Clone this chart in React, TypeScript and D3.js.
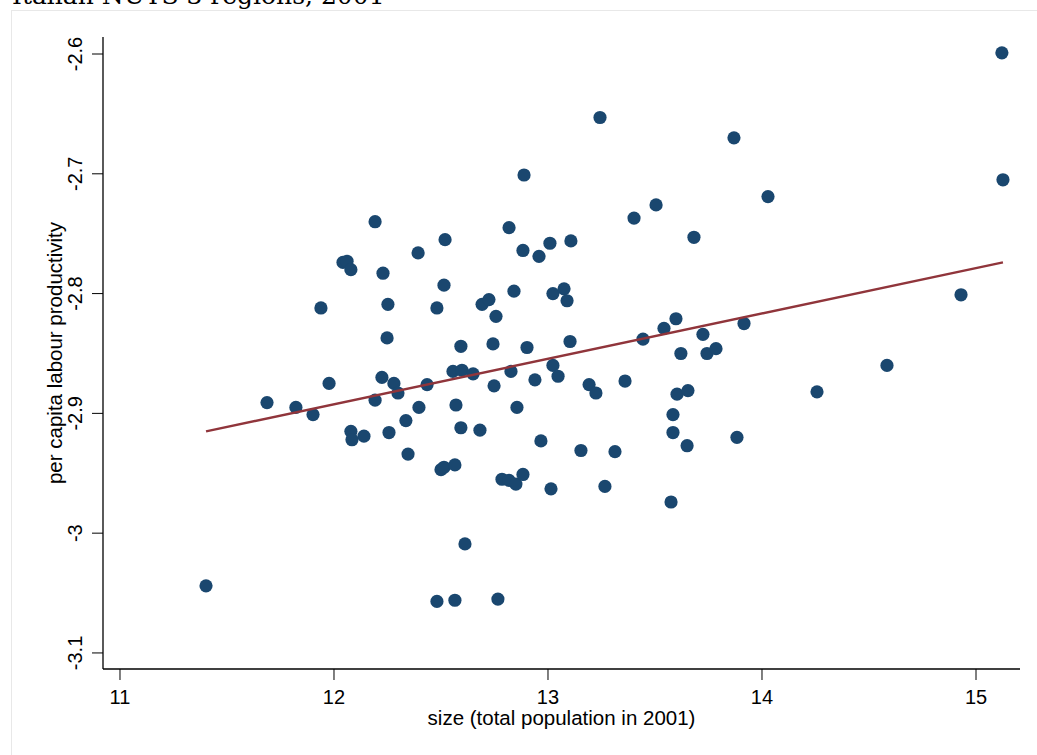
import React from 'react';
import * as d3 from 'd3';

// size (log total population, 2001) and per capita labour productivity, one entry per province
const sizeX = [
  15.121, 13.243, 13.869, 12.888, 15.126, 14.028, 13.505, 13.402, 12.192, 12.818,
  13.682, 13.107, 12.519, 13.009, 12.393, 12.883, 12.958, 12.042, 12.061, 12.079,
  12.229, 12.514, 12.841, 13.023, 13.075, 14.930, 12.252, 11.939, 12.481, 12.692,
  12.724, 13.089, 12.757, 13.598, 13.916, 13.542, 12.248, 13.724, 13.444, 13.103,
  12.743, 12.593, 12.902, 13.621, 13.743, 13.785, 14.584, 13.023, 12.556, 12.598,
  12.650, 12.827, 12.224, 13.047, 12.939, 13.360, 11.977, 12.280, 12.435, 12.748,
  13.192, 12.299, 13.224, 13.603, 13.654, 14.257, 11.687, 12.192, 11.822, 11.902,
  12.570, 12.397, 12.855, 13.584, 12.336, 12.079, 12.084, 12.140, 12.257, 12.593,
  12.682, 13.584, 13.883, 12.967, 13.650, 13.154, 13.313, 12.346, 12.500, 12.514,
  12.565, 12.785, 12.818, 12.850, 12.883, 13.014, 13.266, 13.575, 12.612, 11.402,
  12.481, 12.565, 12.766,
];
const productivityY = [
  -2.599, -2.653, -2.670, -2.701, -2.705, -2.719, -2.726, -2.737, -2.740, -2.745,
  -2.753, -2.756, -2.755, -2.758, -2.766, -2.764, -2.769, -2.774, -2.773, -2.780,
  -2.783, -2.793, -2.798, -2.800, -2.796, -2.801, -2.809, -2.812, -2.812, -2.809,
  -2.805, -2.806, -2.819, -2.821, -2.825, -2.829, -2.837, -2.834, -2.838, -2.840,
  -2.842, -2.844, -2.845, -2.850, -2.850, -2.846, -2.860, -2.860, -2.865, -2.864,
  -2.867, -2.865, -2.870, -2.869, -2.872, -2.873, -2.875, -2.875, -2.876, -2.877,
  -2.876, -2.883, -2.883, -2.884, -2.881, -2.882, -2.891, -2.889, -2.895, -2.901,
  -2.893, -2.895, -2.895, -2.901, -2.906, -2.915, -2.922, -2.919, -2.916, -2.912,
  -2.914, -2.916, -2.920, -2.923, -2.927, -2.931, -2.932, -2.934, -2.947, -2.945,
  -2.943, -2.955, -2.956, -2.959, -2.951, -2.963, -2.961, -2.974, -3.009, -3.044,
  -3.057, -3.056, -3.055,
];

// linear fit (fitted values at the smallest and largest size)
const fitX = [11.402, 15.126];
const fitY = [-2.915, -2.774];

const xTicks = [11, 12, 13, 14, 15];
const yTicks = [-2.6, -2.7, -2.8, -2.9, -3, -3.1];
const yTickLabels = ['-2.6', '-2.7', '-2.8', '-2.9', '-3', '-3.1'];

const W = 1037;
const H = 755;
const font = '"Liberation Sans", Arial, sans-serif';

export default function App() {
  const ref = React.useRef<SVGSVGElement>(null);

  React.useEffect(() => {
    const svg = d3.select(ref.current);
    svg.selectAll('*').remove();

    const x = d3.scaleLinear().domain([10.9206, 15.2056]).range([103, 1020]);
    const y = d3.scaleLinear().domain([-3.1134, -2.5858]).range([669, 37]);

    svg.append('rect').attr('width', W).attr('height', H).attr('fill', '#fff');
    svg.append('rect')
      .attr('x', 11.5).attr('y', 10.5)
      .attr('width', W + 20).attr('height', H + 20)
      .attr('fill', '#fff').attr('stroke', '#e8e8e8');

    // title sits partly above the page edge, as in the source screenshot
    svg.append('text')
      .attr('x', 12).attr('y', 4)
      .attr('font-family', '"DejaVu Serif", serif')
      .attr('font-size', 25)
      .text('Italian NUTS 3 regions, 2001');

    // points
    svg.append('g').selectAll('circle')
      .data(sizeX)
      .enter().append('circle')
      .attr('cx', d => x(d))
      .attr('cy', (d, i) => y(productivityY[i]))
      .attr('r', 6.6)
      .attr('fill', '#1a476f');

    // fit line
    const line = d3.line<number>().x(d => x(d)).y((d, i) => y(fitY[i]));
    svg.append('path')
      .attr('d', line(fitX))
      .attr('fill', 'none')
      .attr('stroke', '#90353b')
      .attr('stroke-width', 2.4);

    // axes
    const [x0, x1] = x.range();
    const [y0, y1] = y.range();
    svg.append('line')
      .attr('x1', x0).attr('x2', x0).attr('y1', y1).attr('y2', y0)
      .attr('stroke', '#000').attr('stroke-width', 1.3);
    svg.append('line')
      .attr('x1', x0).attr('x2', x1).attr('y1', y0).attr('y2', y0)
      .attr('stroke', '#000').attr('stroke-width', 1.3);

    const yg = svg.append('g');
    yTicks.forEach((t, i) => {
      yg.append('line')
        .attr('x1', x0 - 11).attr('x2', x0).attr('y1', y(t)).attr('y2', y(t))
        .attr('stroke', '#000').attr('stroke-width', 1);
      yg.append('text')
        .attr('transform', `translate(82,${y(t)}) rotate(-90)`)
        .attr('text-anchor', 'middle')
        .attr('font-family', font).attr('font-size', 20)
        .text(yTickLabels[i]);
    });

    const xg = svg.append('g');
    xTicks.forEach(t => {
      xg.append('line')
        .attr('x1', x(t)).attr('x2', x(t)).attr('y1', y0).attr('y2', y0 + 11)
        .attr('stroke', '#000').attr('stroke-width', 1);
      xg.append('text')
        .attr('x', x(t)).attr('y', 704)
        .attr('text-anchor', 'middle')
        .attr('font-family', font).attr('font-size', 20)
        .text(String(t));
    });

    svg.append('text')
      .attr('x', (x0 + x1) / 2).attr('y', 725)
      .attr('text-anchor', 'middle')
      .attr('font-family', font).attr('font-size', 20.5)
      .text('size (total population in 2001)');

    svg.append('text')
      .attr('transform', `translate(62,${(y0 + y1) / 2}) rotate(-90)`)
      .attr('text-anchor', 'middle')
      .attr('font-family', font).attr('font-size', 20.5)
      .text('per capita labour productivity');
  }, []);

  return (
    <svg
      ref={ref}
      width={W}
      height={H}
      style={{ position: 'absolute', left: 0, top: 0, display: 'block' }}
    />
  );
}
